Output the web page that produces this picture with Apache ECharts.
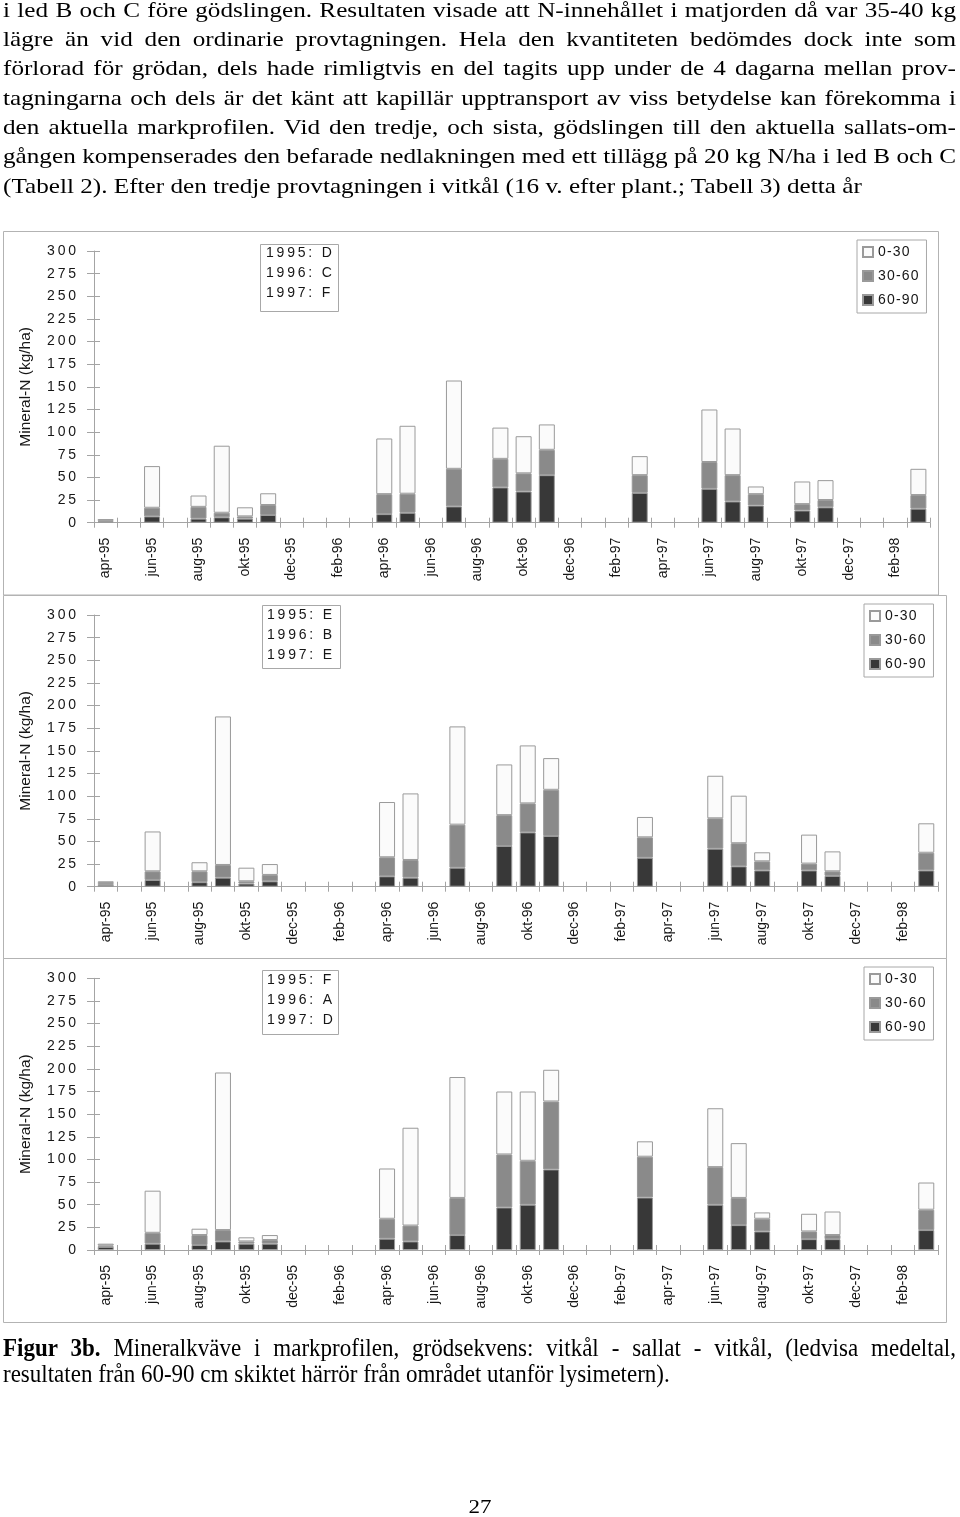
<!DOCTYPE html>
<html>
<head>
<meta charset="utf-8">
<script src="https://cdn.jsdelivr.net/npm/echarts/dist/echarts.min.js"></script>
<style>
  html, body { margin: 0; padding: 0; background: #fff; }
  #page { position: relative; width: 960px; height: 1517px; overflow: hidden; background: #fff; }
  #chart { position: absolute; left: 0; top: 0; width: 960px; height: 1517px; }
  .serif { position: absolute; font-family: "Liberation Serif", "Times New Roman", serif; color: #000; z-index: 2; transform-origin: 0 0; }
  #para { left: 3px; top: -4px; width: 953px; font-size: 25.2px; line-height: 36.6px; transform: scale(1, 0.8); }
  #para div { text-align: justify; text-align-last: justify; white-space: normal; }
  #para div.last { text-align: left; text-align-last: left; }
  #caption { left: 3px; top: 1336px; width: 953px; font-size: 23px; line-height: 24.8px; transform: scale(1, 1.05); }
  #caption div { text-align: justify; text-align-last: justify; }
  #caption div.last { text-align: left; text-align-last: left; }
  #pageno { left: 0; width: 960px; top: 1496px; text-align: center; font-size: 23px; line-height: 28px; transform: scale(1, 0.8); }
</style>
</head>
<body>
<div id="page">
  <div id="chart"></div>
  <div id="para" class="serif">
    <div>i led B och C före gödslingen. Resultaten visade att N-innehållet i matjorden då var 35-40 kg</div>
    <div>lägre än vid den ordinarie provtagningen. Hela den kvantiteten bedömdes dock inte som</div>
    <div>förlorad för grödan, dels hade rimligtvis en del tagits upp under de 4 dagarna mellan prov-</div>
    <div>tagningarna och dels är det känt att kapillär upptransport av viss betydelse kan förekomma i</div>
    <div>den aktuella markprofilen. Vid den tredje, och sista, gödslingen till den aktuella sallats-om-</div>
    <div>gången kompenserades den befarade nedlakningen med ett tillägg på 20 kg N/ha i led B och C</div>
    <div class="last">(Tabell 2). Efter den tredje provtagningen i vitkål (16 v. efter plant.; Tabell 3) detta år</div>
  </div>
  <div id="caption" class="serif">
    <div><b>Figur 3b.</b> Mineralkväve i markprofilen, grödsekvens: vitkål - sallat - vitkål, (ledvisa medeltal,</div>
    <div class="last">resultaten från 60-90 cm skiktet härrör från området utanför lysimetern).</div>
  </div>
  <div id="pageno" class="serif">27</div>
</div>
<script>
// ---------------- DATA ----------------
const months = ['apr-95','maj-95','jun-95','jul-95','aug-95','sep-95','okt-95','nov-95','dec-95','jan-96','feb-96','mar-96',
                'apr-96','maj-96','jun-96','jul-96','aug-96','sep-96','okt-96','nov-96','dec-96','jan-97','feb-97','mar-97',
                'apr-97','maj-97','jun-97','jul-97','aug-97','sep-97','okt-97','nov-97','dec-97','jan-98','feb-98','mar-98'];
const sampleMonths = ['apr-95','jun-95','aug-95','sep-95','okt-95','nov-95','apr-96','maj-96','jul-96','sep-96','okt-96','nov-96',
                      'mar-97','jun-97','jul-97','aug-97','okt-97','nov-97','mar-98'];
const layers = ['0-30', '30-60', '60-90'];
const yAxisName = 'Mineral-N (kg/ha)';
const yMin = 0, yMax = 300, yStep = 25;

const rotation1 = ['1995: D', '1996: C', '1997: F'];
const rotation2 = ['1995: E', '1996: B', '1997: E'];
const rotation3 = ['1995: F', '1996: A', '1997: D'];

// panel 1 (1995:D, 1996:C, 1997:F)
const p1_0_30  = [2, 46, 12.5, 74, 10, 13, 61.5, 75, 97.5, 34.5, 41, 28, 21, 58, 51.5, 8.5, 25, 22, 29];
const p1_30_60 = [1, 9.5, 13, 5, 2.5, 11, 22, 21, 41.5, 31.5, 20, 28, 19.5, 29.5, 29, 12.5, 7, 8, 15];
const p1_60_90 = [1, 7, 4.5, 6, 4.5, 8.5, 9.5, 11, 18, 39, 34.5, 52.5, 33, 37.5, 23.5, 19, 13.5, 17, 15.5];
// panel 2 (1995:E, 1996:B, 1997:E)
const p2_0_30  = [2, 44, 10, 164, 15, 12, 61, 73.5, 108.5, 56, 64, 35, 22.5, 47, 52.5, 10, 32, 22, 32.5];
const p2_30_60 = [2, 9.5, 12, 14, 2.5, 7, 21, 19.5, 47.5, 34, 32, 51, 22.5, 33.5, 25.5, 10, 7.5, 5, 19.5];
const p2_60_90 = [2, 7.5, 5, 10, 3.5, 6, 11.5, 10, 21, 45, 60, 56, 32, 42, 22.5, 18, 18, 12, 18];
// panel 3 (1995:F, 1996:A, 1997:D)
const p3_0_30  = [2, 46.5, 7, 174, 4.5, 5.5, 55.5, 108, 133.5, 69.5, 76.5, 35, 17, 65, 60.5, 7, 19.5, 26, 30];
const p3_30_60 = [1.5, 12, 11, 12.5, 2.5, 4, 22, 17.5, 41, 58.5, 48.5, 75, 45, 41.5, 30, 14, 8.5, 4.5, 22.5];
const p3_60_90 = [3.5, 7, 5.5, 9.5, 7, 7, 12.5, 9.5, 16.5, 47, 50, 89, 58, 50, 27.5, 20.5, 12, 12, 22];

// ---------------- LAYOUT / STYLE ----------------
const panels = [
  { rot: rotation1, vals: { '0-30': p1_0_30, '30-60': p1_30_60, '60-90': p1_60_90 } },
  { rot: rotation2, vals: { '0-30': p2_0_30, '30-60': p2_30_60, '60-90': p2_60_90 } },
  { rot: rotation3, vals: { '0-30': p3_0_30, '30-60': p3_30_60, '60-90': p3_60_90 } }
];
const geo = [
  { frame: [3.5, 231.5, 935, 363.5], grid: { left: 94, top: 251, width: 836, height: 271.7 },
    box: [260.5, 244.5, 78, 67], text: [266, 253.5, 20], legend: [857, 240] },
  { frame: [3.5, 595.5, 943, 363], grid: { left: 94, top: 615, width: 844, height: 271.7 },
    box: [262.5, 605.5, 78, 63], text: [267, 615, 20], legend: [864, 604] },
  { frame: [3.5, 958.5, 943, 364], grid: { left: 94, top: 978.3, width: 844, height: 271.7 },
    box: [262.5, 970.5, 76, 64], text: [267, 980, 20.3], legend: [864, 967] }
];
const colors = { '0-30': '#fbfbfb', '30-60': '#8a8a8a', '60-90': '#383838' };
const AX = '#a4a4a4';
const TXT = '#161616';
const SANS = '"Liberation Sans", Arial, sans-serif';
const THIN = '\u2009', HAIR = '\u200A';
const spaced = (s, sp) => String(s).split('').join(sp);

function expand(vals) {
  const arr = months.map(() => null);
  sampleMonths.forEach((m, i) => { arr[months.indexOf(m)] = vals[i]; });
  return arr;
}

const grid = [], xAxis = [], yAxis = [], series = [], legend = [], graphic = [];
panels.forEach((p, i) => {
  const g = geo[i];
  grid.push(Object.assign({ containLabel: false }, g.grid));
  xAxis.push({
    type: 'category', gridIndex: i, data: months, position: 'bottom', boundaryGap: true,
    axisLine: { show: true, lineStyle: { color: AX, width: 1 } },
    axisTick: { show: true, interval: 0, length: 5, lineStyle: { color: AX } },
    axisLabel: { interval: 1, rotate: 90, margin: 15, fontSize: 14, color: TXT, fontFamily: SANS },
    splitLine: { show: false }
  });
  xAxis.push({
    type: 'category', gridIndex: i, data: months, position: 'bottom', boundaryGap: true,
    axisLine: { show: false },
    axisTick: { show: true, inside: true, interval: 0, length: 5, lineStyle: { color: AX } },
    axisLabel: { show: false }, splitLine: { show: false }
  });
  yAxis.push({
    type: 'value', gridIndex: i, min: yMin, max: yMax, interval: yStep, position: 'left',
    axisLine: { show: true, lineStyle: { color: AX, width: 1 } },
    axisTick: { show: true, length: 7, lineStyle: { color: AX } },
    axisLabel: { margin: 18, fontSize: 14, color: TXT, fontFamily: SANS, formatter: v => spaced(v, THIN) },
    splitLine: { show: false },
    name: yAxisName, nameLocation: 'middle', nameGap: 60,
    nameTextStyle: { fontSize: 15.5, color: TXT, fontFamily: SANS }
  });
  yAxis.push({
    type: 'value', gridIndex: i, min: yMin, max: yMax, interval: yStep, position: 'left',
    axisLine: { show: false },
    axisTick: { show: true, inside: true, length: 6, lineStyle: { color: AX } },
    axisLabel: { show: false }, splitLine: { show: false }
  });
  ['60-90', '30-60', '0-30'].forEach(name => {
    series.push({
      type: 'bar', name: name, xAxisIndex: 2 * i, yAxisIndex: 2 * i, stack: 'panel' + i,
      barWidth: 16, data: expand(p.vals[name]), animation: false,
      itemStyle: { color: colors[name], borderColor: '#9a9a9a', borderWidth: 1 }
    });
  });
  legend.push({
    data: layers, orient: 'vertical', left: g.legend[0], top: g.legend[1],
    itemWidth: 10, itemHeight: 10, itemGap: 10, icon: 'rect', selectedMode: false,
    padding: [5, 8, 6, 5], borderColor: '#a8a8a8', borderWidth: 1, backgroundColor: '#fff',
    textStyle: { fontSize: 14, color: TXT, fontFamily: SANS, padding: [0, 0, 0, 0] },
    formatter: n => spaced(n, HAIR)
  });
  graphic.push({
    type: 'rect', shape: { x: g.frame[0], y: g.frame[1], width: g.frame[2], height: g.frame[3] },
    style: { fill: 'none', stroke: '#b3b3b3', lineWidth: 1 }, silent: true, z: 0
  });
  graphic.push({
    type: 'rect', shape: { x: g.box[0], y: g.box[1], width: g.box[2], height: g.box[3] },
    style: { fill: '#fff', stroke: '#a8a8a8', lineWidth: 1 }, silent: true, z: 5
  });
  p.rot.forEach((t, k) => {
    graphic.push({
      type: 'text', x: g.text[0], y: g.text[1] + k * g.text[2], silent: true, z: 6,
      style: { text: spaced(t, THIN), font: '14px ' + SANS, fill: TXT, verticalAlign: 'middle', align: 'left' }
    });
  });
});

const chart = echarts.init(document.getElementById('chart'), null, { renderer: 'canvas' });
chart.setOption({
  animation: false,
  backgroundColor: 'transparent',
  grid, xAxis, yAxis, series, legend, graphic
});
</script>
</body>
</html>
